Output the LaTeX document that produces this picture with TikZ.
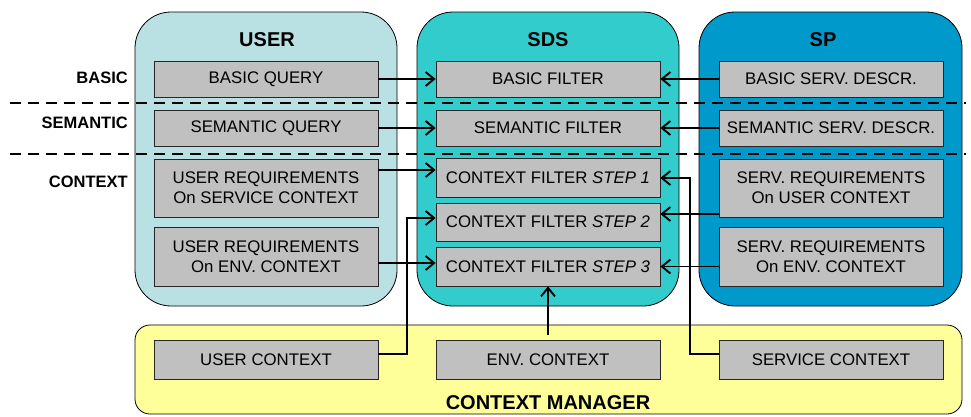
\documentclass[tikz,border=0pt]{standalone}
\usepackage{fontspec}
\setmainfont{Liberation Sans}
\usepackage{xcolor}
\usetikzlibrary{arrows.meta}

\definecolor{userbg}{RGB}{185,224,227}
\definecolor{sdsbg}{RGB}{51,204,204}
\definecolor{spbg}{RGB}{0,153,204}
\definecolor{cmbg}{RGB}{255,255,153}
\definecolor{boxgray}{RGB}{192,192,192}

\tikzset{
  panel/.style={draw=black, line width=0.8pt, rounded corners=36pt},
  blk/.style={draw=black!85, line width=0.8pt, fill=boxgray, minimum width=224pt,
    minimum height=36pt, inner sep=0pt, align=center,
    font=\fontsize{16.8}{20}\selectfont},
  ttl/.style={font=\fontsize{20}{24}\selectfont\bfseries},
  rowlbl/.style={anchor=east, inner sep=0pt, font=\fontsize{16.5}{19}\selectfont\bfseries},
  link/.style={line width=1.9pt, -{Straight Barb[length=8.5pt,width=14pt,line width=1.9pt]}}
}

\begin{document}
\begin{tikzpicture}[x=1pt,y=-1pt]
\useasboundingbox (0,0) rectangle (971,416);

% panels
\draw[panel, fill=userbg] (135,12) rectangle (397,306);
\draw[panel, fill=sdsbg] (417,12) rectangle (679,306);
\draw[panel, fill=spbg] (699,12) rectangle (962,306);
\draw[panel, fill=cmbg, rounded corners=15pt] (135,325) rectangle (962,414);

\node[ttl] (user) at (267,40) {USER};
\node[ttl] (sds) at (548,40) {SDS};
\node[ttl] (sp) at (823,40) {SP};
\node[ttl] (cm) at (548,403) {CONTEXT MANAGER};

% levels
\draw[line width=1.8pt, dash pattern=on 11pt off 7pt] (10,103) -- (966,103);
\draw[line width=1.8pt, dash pattern=on 11pt off 7pt] (10,154) -- (966,154);
\node[rowlbl] (lbasic) at (128,78) {BASIC};
\node[rowlbl] (lsem) at (128,123) {SEMANTIC};
\node[rowlbl] (lctx) at (128,182) {CONTEXT};

% user
\node[blk] (basicq) at (266,79) {BASIC QUERY};
\node[blk] (semq) at (266,128) {SEMANTIC QUERY};
\node[blk, minimum height=58pt] (ureqsvc) at (266,188) {USER REQUIREMENTS\\On SERVICE CONTEXT};
\node[blk, minimum height=59pt] (ureqenv) at (266,256.5) {USER REQUIREMENTS\\On ENV. CONTEXT};

% sds
\node[blk] (basicf) at (548,79) {BASIC FILTER};
\node[blk] (semf) at (548,128) {SEMANTIC FILTER};
\node[blk, minimum height=39pt] (step1) at (548,178) {CONTEXT FILTER \textit{STEP 1}};
\node[blk, minimum height=38pt] (step2) at (548,222) {CONTEXT FILTER \textit{STEP 2}};
\node[blk, minimum height=39pt] (step3) at (548,266.5) {CONTEXT FILTER \textit{STEP 3}};

% sp
\node[blk] (basicd) at (831,79) {BASIC SERV. DESCR.};
\node[blk] (semd) at (831,128) {SEMANTIC SERV. DESCR.};
\node[blk, minimum height=58pt] (srequsr) at (831,188) {SERV. REQUIREMENTS\\On USER CONTEXT};
\node[blk, minimum height=59pt] (sreqenv) at (831,256.5) {SERV. REQUIREMENTS\\On ENV. CONTEXT};

% context manager
\node[blk, minimum height=39pt] (usrctx) at (266,360) {USER CONTEXT};
\node[blk, minimum height=39pt] (envctx) at (548,359.5) {ENV. CONTEXT};
\node[blk, minimum height=39pt] (svcctx) at (831,359.5) {SERVICE CONTEXT};

% flows
\draw[link] (basicq) -- (basicf);
\draw[link] (semq) -- (semf);
\draw[link] (basicd) -- (basicf);
\draw[link] (semd) -- (semf);
\draw[link] ([yshift=18pt]ureqsvc.east) -- ([yshift=8pt]step1.west);
\draw[link] ([yshift=-6.5pt]ureqenv.east) -- ([yshift=3.5pt]step3.west);
\draw[link] ([yshift=6pt]usrctx.east) -- ++(29,0) |- ([yshift=4pt]step2.west);
\draw[link, shorten <=5pt] (envctx) -- (step3);
\draw[link] ([yshift=5.5pt]svcctx.west) -- ++(-29,0) |- (step1.east);
\draw[link] ([yshift=-26pt]srequsr.west) -- ([yshift=8pt]step2.east);
\draw[link] ([yshift=-10pt]sreqenv.west) -- (step3.east);

\end{tikzpicture}
\end{document}
